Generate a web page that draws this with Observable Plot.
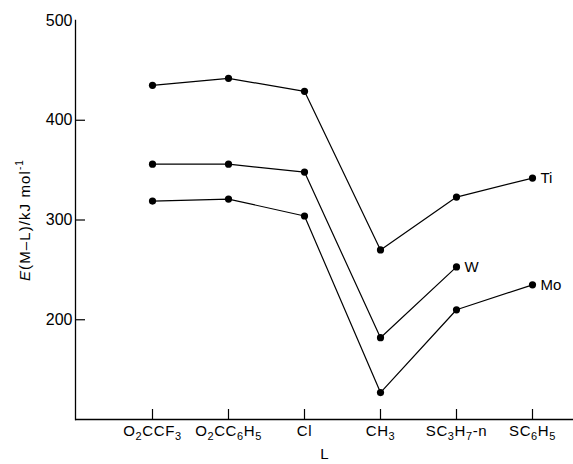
<!DOCTYPE html>
<html><head><meta charset="utf-8">
<script src="https://cdn.jsdelivr.net/npm/d3@7"></script>
<script src="https://cdn.jsdelivr.net/npm/@observablehq/plot@0.6"></script>
<style>body{margin:0;background:#fff} svg{display:block}</style>
</head><body><div id="chart"></div>
<script>
const ligands = ["O₂CCF₃", "O₂CC₆H₅", "Cl", "CH₃", "SC₃H₇-n", "SC₆H₅"];
const tiValues = [435, 442, 429, 270, 323, 342];
const wValues = [356, 356, 348, 182, 253, null];
const moValues = [319, 321, 304, 127, 210, 235];
const seriesNames = ["Ti", "W", "Mo"];
const yTickValues = [200, 300, 400, 500];
const yInnerTicks = [200, 300, 400];
const xLabel = "L";

const seriesValues = [tiValues, wValues, moValues];
const rows = [];
seriesNames.forEach((s, i) => ligands.forEach((l, j) => {
  if (seriesValues[i][j] != null) rows.push({series: s, ligand: l, value: seriesValues[i][j]});
}));
const lastRows = seriesNames.map(s => rows.filter(r => r.series === s).at(-1));

const font = "Liberation Sans, Arial, sans-serif";
const chart = Plot.plot({
  width: 573, height: 464,
  marginLeft: 75, marginRight: 0, marginTop: 20, marginBottom: 45,
  style: {fontFamily: font, fontSize: "14px", color: "#000", background: "#fff"},
  x: {type: "point", domain: ligands, range: [151, 533], padding: 0, label: null},
  y: {domain: [100, 500], label: null},
  marks: [
    Plot.ruleY([100], {stroke: "#000", strokeWidth: 1.3}),
    Plot.frame({anchor: "left", stroke: "#000", strokeWidth: 1.3}),
    Plot.axisY({ticks: yInnerTicks, tickSize: 10, dx: 10, text: null, label: null, stroke: "#000", strokeWidth: 1.2}),
    Plot.axisY({ticks: yTickValues, tickSize: 0, tickPadding: 3, fontSize: 16, label: null}),
    Plot.axisX({tickSize: 10, dy: -10, text: null, label: null, stroke: "#000", strokeWidth: 1.2}),
    Plot.axisX({tickSize: 0, tickPadding: 6, fontSize: 15, label: null}),
    Plot.line(rows, {x: "ligand", y: "value", z: "series", stroke: "#000", strokeWidth: 1.2}),
    Plot.dot(rows, {x: "ligand", y: "value", r: 3.6, fill: "#000"}),
    Plot.text(lastRows, {x: "ligand", y: "value", text: "series", dx: 8, textAnchor: "start", fontSize: 15}),
    Plot.text([xLabel], {frameAnchor: "bottom", dy: 39, fontSize: 15})
  ]
});
document.getElementById("chart").appendChild(chart);

// render Unicode subscripts of x tick labels as real subscript tspans
const subMap = {"₀":"0","₁":"1","₂":"2","₃":"3","₄":"4","₅":"5","₆":"6","₇":"7","₈":"8","₉":"9"};
d3.select(chart).selectAll("g[aria-label='x-axis tick label'] text").each(function() {
  const el = d3.select(this);
  const s = el.text();
  el.text("").attr("letter-spacing", "0.6px");
  let inSub = false;
  for (const ch of s) {
    const isSub = ch in subMap;
    const span = el.append("tspan").text(isSub ? subMap[ch] : ch);
    if (isSub) span.attr("font-size", 11);
    if (isSub !== inSub) span.attr("dy", isSub ? 4 : -4);
    inSub = isSub;
  }
});

// y-axis title with italic E and superscript
const svg = d3.select(chart);
const t = svg.append("text")
  .attr("transform", "translate(26,220) rotate(-90)")
  .attr("text-anchor", "middle")
  .attr("dominant-baseline", "middle")
  .attr("font-family", font)
  .attr("font-size", 15)
  .attr("letter-spacing", "1.1px")
  .attr("fill", "#000");
t.append("tspan").attr("font-style", "italic").text("E");
t.append("tspan").text("(M–L)/kJ mol");
t.append("tspan").attr("font-size", 10).attr("dy", -6).text("-1");
</script>
</body></html>
